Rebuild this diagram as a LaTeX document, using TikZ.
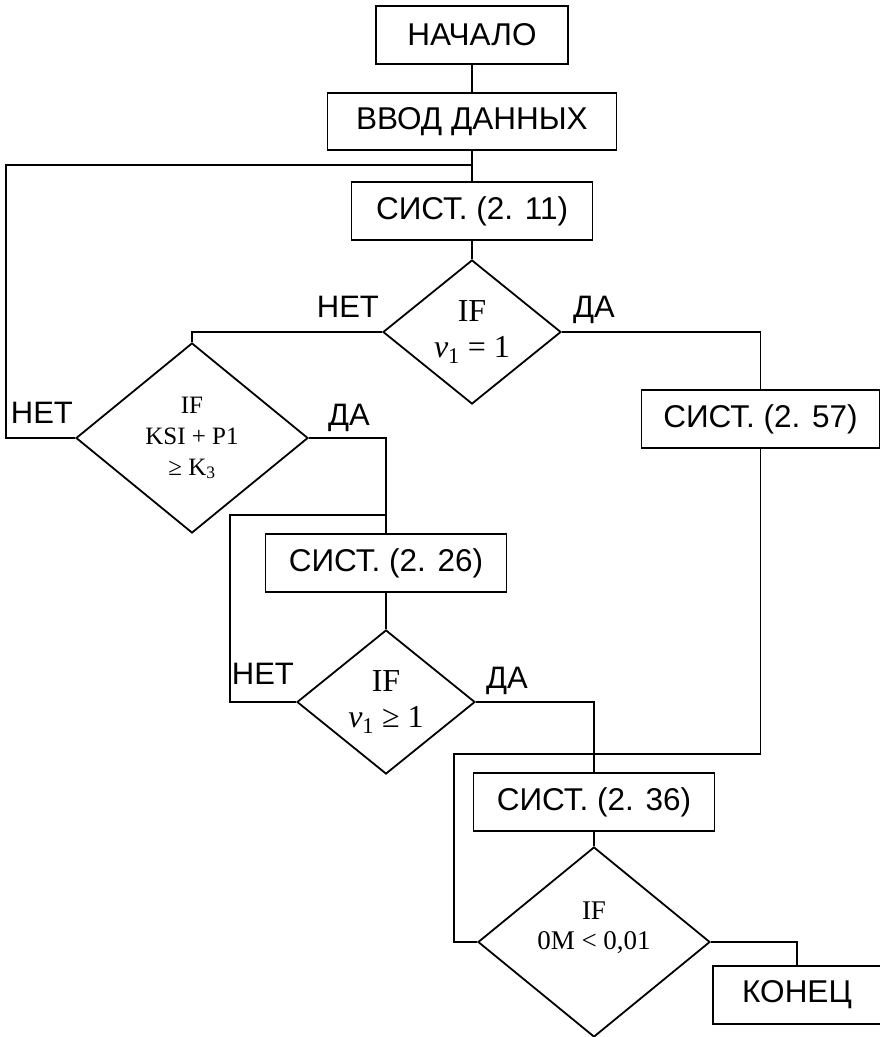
\documentclass[tikz,border=0pt]{standalone}
\usepackage{fontspec}
\setmainfont{Liberation Serif}
\setsansfont{Liberation Sans}
\usepackage{tikz}
\usetikzlibrary{shapes.geometric}

\tikzset{
    block/.style={draw, line width=1.8pt, inner sep=0pt, minimum height=58pt,
        font=\sffamily\fontsize{31.5}{36}\selectfont},
    cond/.style={draw, diamond, line width=1.8pt, inner sep=0pt, align=center,
        minimum width=178pt, minimum height=144pt,
        font=\fontsize{32}{36}\selectfont},
    bigcond/.style={cond, minimum width=232pt, minimum height=190pt,
        font=\fontsize{25}{31}\selectfont},
    answer/.style={inner sep=0pt, font=\sffamily\fontsize{31}{36}\selectfont},
    link/.style={line width=1.8pt}
}

\begin{document}
\begin{tikzpicture}[x=1pt, y=-1pt]
    \useasboundingbox (0,0) rectangle (880,1037);

    % blocks
    \node[block, minimum width=192pt] (start) at (472,35) {НАЧАЛО};
    \node[block, minimum width=289pt, minimum height=57pt] (input) at (472,121.5) {ВВОД ДАННЫХ};
    \node[block, minimum width=241pt] (sys11) at (472,211) {СИСТ. (2. 11)};
    \node[cond] (if1) at (472,332) {IF\\{\itshape v}\textsubscript{1} = 1};
    \node[bigcond] (if2) at (192,438) {IF\\KSI + P1\\≥ K\textsubscript{3}};
    \node[block, minimum width=238pt] (sys57) at (760.5,419) {СИСТ. (2. 57)};
    \node[block, minimum width=241pt] (sys26) at (386,563) {СИСТ. (2. 26)};
    \node[cond] (if3) at (386,702) {IF\\{\itshape v}\textsubscript{1} ≥ 1};
    \node[block, minimum width=241pt] (sys36) at (594,802) {СИСТ. (2. 36)};
    \node[bigcond, font=\fontsize{27}{30}\selectfont] (if4) at (594,942) {};
    \node[font=\fontsize{27}{30}\selectfont, align=center, inner sep=0pt] (if4txt)
        at ([yshift=14pt]if4.center) {IF\\0M < 0,01};
    \node[block, minimum width=168pt] (stop) at (797,995) {КОНЕЦ};

    % answers
    \node[answer, anchor=base east] (no1) at ([xshift=-3pt, yshift=15pt]if1.west) {НЕТ};
    \node[answer, anchor=base west] (yes1) at ([xshift=11pt, yshift=15pt]if1.east) {ДА};
    \node[answer, anchor=base east] (no2) at ([xshift=-2pt, yshift=15pt]if2.west) {НЕТ};
    \node[answer, anchor=base west] (yes2) at ([xshift=19pt, yshift=13pt]if2.east) {ДА};
    \node[answer, anchor=base east] (no3) at ([xshift=-2pt, yshift=18pt]if3.west) {НЕТ};
    \node[answer, anchor=base west] (yes3) at ([xshift=10pt, yshift=14pt]if3.east) {ДА};

    \coordinate (back1) at (472,165);
    \coordinate (back2) at (386,515);
    \coordinate (back3) at (454,754);

    % connections
    \draw[link] (start) -- (input);
    \draw[link] (input) -- (sys11);
    \draw[link] (sys11) -- (if1);
    \draw[link] (if1.west) -| (if2.north);
    \draw[link] (if1.east) -| (sys57.north);
    \draw[link] (if2.west) -- ++(-69,0) |- (back1);
    \draw[link] (if2.east) -| (sys26.north);
    \draw[link] (sys26) -- (if3);
    \draw[link] (if3.west) -- ++(-66,0) |- (back2);
    \draw[link] (if3.east) -| (sys36.north);
    \draw[link] (sys57.south) |- (back3) |- (if4.west);
    \draw[link] (sys36) -- (if4);
    \draw[link] (if4.east) -| (stop.north);
\end{tikzpicture}
\end{document}
